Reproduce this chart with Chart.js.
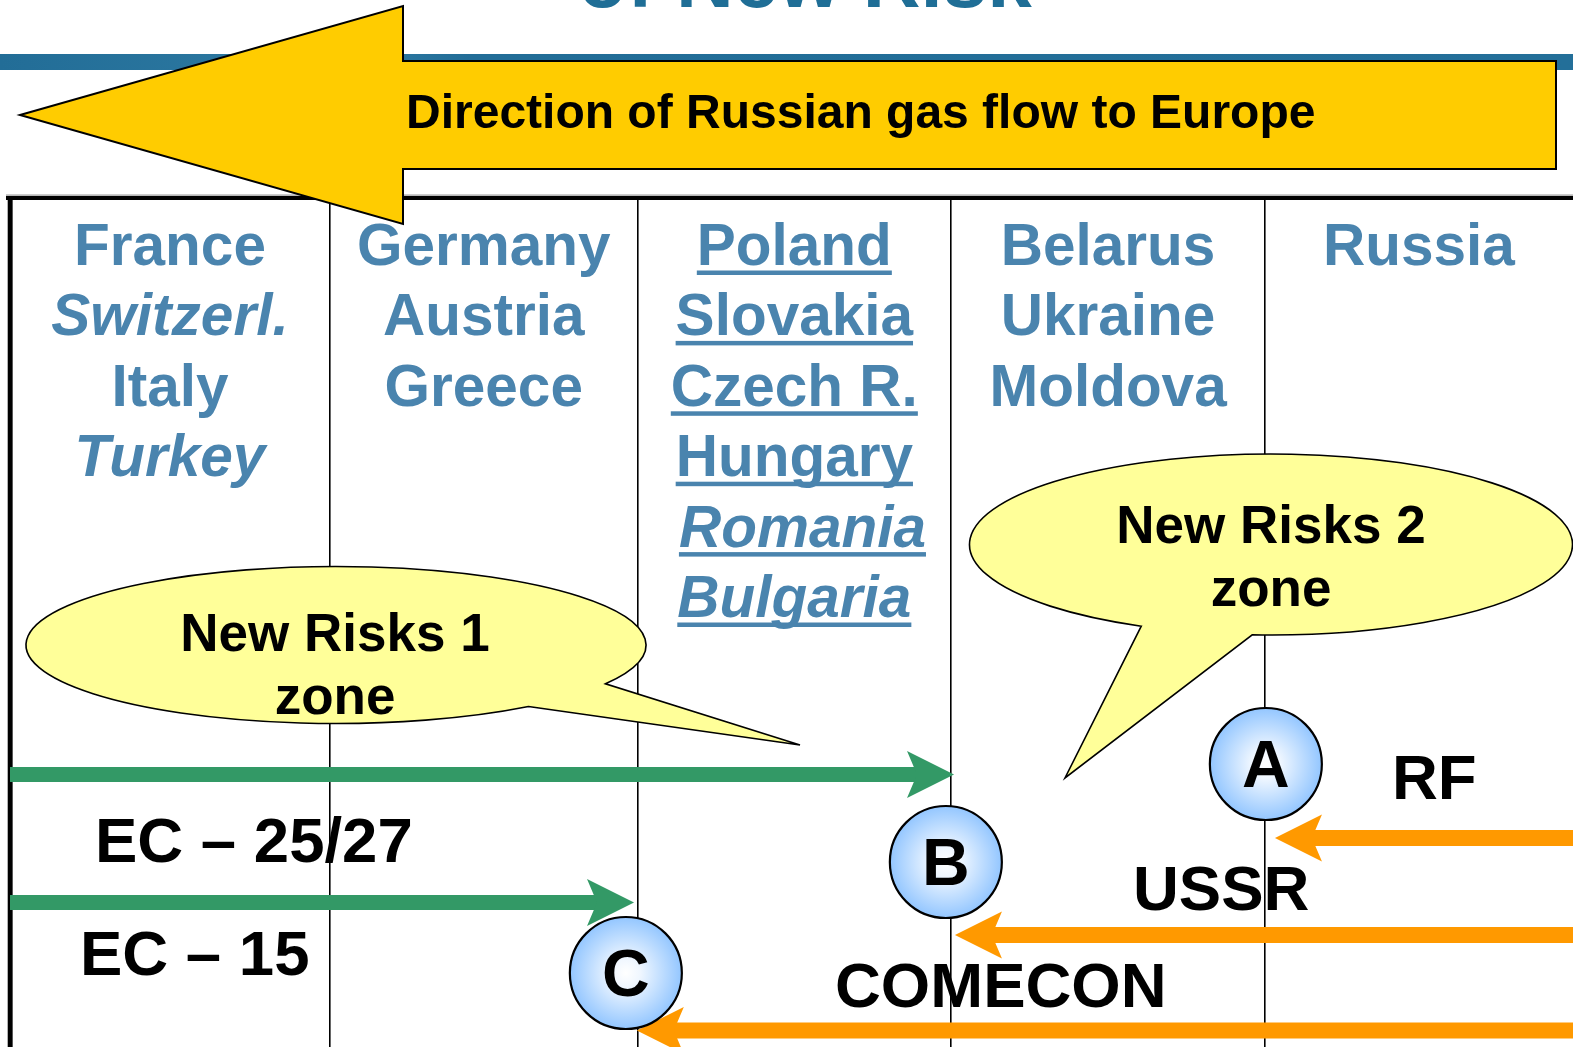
<!DOCTYPE html>
<html>
<head>
<meta charset="utf-8">
<script src="https://cdn.jsdelivr.net/npm/chart.js@4.4.1/dist/chart.umd.min.js"></script>
<style>
  html, body { margin: 0; padding: 0; background: #ffffff; overflow: hidden; }
  canvas { display: block; }
</style>
</head>
<body>
<canvas id="c" width="1573" height="1047"></canvas>
<script>
// ================= DATA =================
const titleText = "of New Risk";
const flowCaption = "Direction of Russian gas flow to Europe";

// table column boundaries (column units)
const columnEdges = [0, 1.02, 2, 3, 4];
const tableRight = 4.982;

// countries listed per column (west -> east)
const countryColumns = [
  ["France", "Switzerl.", "Italy", "Turkey"],
  ["Germany", "Austria", "Greece"],
  ["Poland", "Slovakia", "Czech R.", "Hungary", " Romania", "Bulgaria"],
  ["Belarus", "Ukraine", "Moldova"],
  ["Russia"]
];
const italicCountries = ["Switzerl.", "Turkey", "Romania", "Bulgaria"];
const underlinedColumn = 2;

// flows: label, start (column units), end (column units), level
const flowLabels = ["EC – 25/27", "EC – 15", "RF", "USSR", "COMECON"];
const flowFrom   = [0, 0, 4.982, 4.982, 4.982];
const flowTo     = [3.009, 1.989, 4.032, 3.012, 1.998];
const flowLevel  = [774.5, 902.5, 838, 935, 1030.5];

// border nodes
const nodeLabels = ["A", "B", "C"];
const nodeX = [4.003, 2.983, 1.963];
const nodeY = [764, 862, 973];

// risk zone callouts
const zoneLabels = [["New Risks 1", "zone"], ["New Risks 2", "zone"]];

// ================= LAYOUT / STYLE =================
const FONT = '"Liberation Sans", Arial, Helvetica, sans-serif';
const countryColor = '#4A84AE';
const titleBlue = '#1F6E96';
const westColor = '#339966';
const eastColor = '#FF9900';

const flowLabelPos = [[95, 862], [80, 975], [1392, 799], [1133, 910], [835, 1007]];
const calloutShapes = [
  { cx: 336, cy: 645, rx: 310, ry: 78.5, a: [607, 684], tip: [800, 745], b: [530, 707], tx: 335, ty: [651, 714] },
  { cx: 1271, cy: 544.5, rx: 301.5, ry: 90.5, a: [1252, 636], tip: [1065, 778], b: [1140, 627], tx: 1271, ty: [543, 606] }
];
const bigArrow = [[20, 115], [403, 6], [403, 61], [1556, 61], [1556, 169], [403, 169], [403, 224]];

function nodeFill(c) {
  const ch = c.chart;
  if (c.type !== 'data' || !ch.chartArea || !c.raw) return '#b5d8ff';
  const cx = ch.scales.x.getPixelForValue(c.raw.x);
  const cy = ch.scales.y.getPixelForValue(c.raw.y);
  const g = ch.ctx.createRadialGradient(cx, cy, 0, cx, cy, 56);
  g.addColorStop(0, '#ffffff');
  g.addColorStop(0.25, '#f0f7ff');
  g.addColorStop(1, '#93c6ff');
  return g;
}

function drawArrow(ctx, x0, x1, y, w, color) {
  const dir = x1 > x0 ? 1 : -1;
  const notch = x1 - dir * 37;
  const back = x1 - dir * 47;
  ctx.fillStyle = color;
  const sx = Math.min(x0, notch + dir * 6), ex = Math.max(x0, notch + dir * 6);
  ctx.fillRect(sx, y - w / 2, ex - sx, w);
  ctx.beginPath();
  ctx.moveTo(x1, y);
  ctx.lineTo(back, y - 23.5);
  ctx.lineTo(notch, y);
  ctx.lineTo(back, y + 23.5);
  ctx.closePath();
  ctx.fill();
}

function drawCallout(ctx, s) {
  const ta = Math.atan2((s.a[1] - s.cy) / s.ry, (s.a[0] - s.cx) / s.rx);
  const tb = Math.atan2((s.b[1] - s.cy) / s.ry, (s.b[0] - s.cx) / s.rx);
  const TWO = Math.PI * 2;
  let start, end;
  if (((tb - ta) % TWO + TWO) % TWO < Math.PI) { start = tb; end = ta; }
  else { start = ta; end = tb; }
  ctx.beginPath();
  ctx.ellipse(s.cx, s.cy, s.rx, s.ry, 0, start, end, false);
  ctx.lineTo(s.tip[0], s.tip[1]);
  ctx.closePath();
  ctx.fillStyle = '#FFFF99';
  ctx.fill();
  ctx.lineWidth = 1.6;
  ctx.strokeStyle = '#000';
  ctx.lineJoin = 'miter';
  ctx.stroke();
}

const diagramPlugin = {
  id: 'diagram',
  beforeDatasetsDraw(chart) {
    const ctx = chart.ctx;
    const xs = chart.scales.x;
    ctx.save();
    // table top & left border
    ctx.fillStyle = '#999999';
    ctx.fillRect(6, 194.5, 1573, 1.2);
    ctx.fillStyle = '#000000';
    ctx.fillRect(6, 196, 1573, 4);
    ctx.fillRect(xs.getPixelForValue(columnEdges[0]) - 2.3, 196, 4.6, 1047);

    // country names
    ctx.textAlign = 'center';
    ctx.textBaseline = 'alphabetic';
    countryColumns.forEach((col, ci) => {
      const left = columnEdges[ci];
      const right = ci + 1 < columnEdges.length ? columnEdges[ci + 1] : tableRight;
      const cx = xs.getPixelForValue((left + right) / 2);
      col.forEach((name, ri) => {
        const y = 265 + ri * 70.4;
        const italic = italicCountries.includes(name.trim());
        ctx.font = (italic ? 'italic ' : '') + 'bold 58.5px ' + FONT;
        ctx.fillStyle = countryColor;
        ctx.fillText(name, cx, y);
        if (ci === underlinedColumn) {
          const W = ctx.measureText(name).width;
          const lead = ctx.measureText(name.slice(0, name.length - name.trimStart().length)).width;
          ctx.fillRect(cx - W / 2 + lead, y + 5.5, W - lead, 4.5);
        }
      });
    });

    // callouts
    calloutShapes.forEach((s, i) => {
      drawCallout(ctx, s);
      ctx.fillStyle = '#000';
      ctx.font = 'bold 53px ' + FONT;
      ctx.textAlign = 'center';
      zoneLabels[i].forEach((t, k) => ctx.fillText(t, s.tx, s.ty[k]));
    });

    // flows
    chart.data.datasets.forEach((ds, di) => {
      if (ds.kind !== 'flow') return;
      const meta = chart.getDatasetMeta(di);
      const p0 = meta.data[0], p1 = meta.data[1];
      const east = p1.x < p0.x;
      drawArrow(ctx, p0.x, p1.x, p0.y, east ? 16 : 15, east ? eastColor : westColor);
    });

    // flow labels
    ctx.fillStyle = '#000';
    ctx.font = 'bold 63.5px ' + FONT;
    ctx.textAlign = 'left';
    flowLabels.forEach((t, i) => ctx.fillText(t, flowLabelPos[i][0], flowLabelPos[i][1]));
    ctx.restore();
  },
  afterDatasetsDraw(chart) {
    const ctx = chart.ctx;
    ctx.save();
    // node letters
    const nodeIdx = chart.data.datasets.findIndex(d => d.kind === 'node');
    const meta = chart.getDatasetMeta(nodeIdx);
    ctx.fillStyle = '#000';
    ctx.font = 'bold 66px ' + FONT;
    ctx.textAlign = 'center';
    meta.data.forEach((pt, i) => ctx.fillText(nodeLabels[i], pt.x, pt.y + 23));

    // header: title, band, big arrow
    ctx.fillStyle = titleBlue;
    ctx.font = 'bold 80px ' + FONT;
    ctx.textAlign = 'center';
    ctx.fillText(titleText, 805, 7);
    const band = ctx.createLinearGradient(0, 0, 1573, 0);
    band.addColorStop(0, '#226d97');
    band.addColorStop(0.22, '#2f7ba3');
    band.addColorStop(0.3, '#226d97');
    band.addColorStop(1, '#236f99');
    ctx.fillStyle = band;
    ctx.fillRect(0, 54, 1573, 16);

    ctx.beginPath();
    bigArrow.forEach((p, i) => i ? ctx.lineTo(p[0], p[1]) : ctx.moveTo(p[0], p[1]));
    ctx.closePath();
    ctx.fillStyle = '#FFCC00';
    ctx.fill();
    ctx.lineWidth = 2;
    ctx.strokeStyle = '#000';
    ctx.lineJoin = 'miter';
    ctx.stroke();

    ctx.fillStyle = '#000';
    ctx.font = 'bold 48px ' + FONT;
    ctx.textAlign = 'left';
    ctx.fillText(flowCaption, 406, 128);
    ctx.restore();
  }
};

const datasets = flowLabels.map((label, i) => ({
  kind: 'flow',
  label: label,
  data: [{ x: flowFrom[i], y: flowLevel[i] }, { x: flowTo[i], y: flowLevel[i] }],
  pointRadius: 0,
  pointHoverRadius: 0,
  showLine: false
}));
datasets.push({
  kind: 'node',
  label: 'nodes',
  data: nodeLabels.map((l, i) => ({ x: nodeX[i], y: nodeY[i] })),
  pointRadius: 56,
  pointHoverRadius: 56,
  pointBorderWidth: 2.2,
  pointHoverBorderWidth: 2.2,
  pointBorderColor: '#000',
  pointBackgroundColor: nodeFill,
  pointHoverBackgroundColor: nodeFill,
  clip: false
});

new Chart(document.getElementById('c'), {
  type: 'scatter',
  data: { datasets },
  options: {
    responsive: false,
    maintainAspectRatio: false,
    devicePixelRatio: 1,
    animation: false,
    events: [],
    layout: { autoPadding: false, padding: { left: 10, top: 198, right: 0, bottom: 0 } },
    plugins: { legend: { display: false }, tooltip: { enabled: false }, title: { display: false } },
    scales: {
      x: {
        type: 'linear', min: 0, max: tableRight,
        afterBuildTicks: (axis) => { axis.ticks = columnEdges.map(v => ({ value: v })); },
        ticks: { display: false },
        grid: { drawTicks: false, color: '#000', lineWidth: (c) => c.index === 0 ? 4.5 : 1.6 },
        border: { display: false }
      },
      y: { type: 'linear', min: 198, max: 1047, reverse: true, display: false }
    }
  },
  plugins: [diagramPlugin]
});
</script>
</body>
</html>
